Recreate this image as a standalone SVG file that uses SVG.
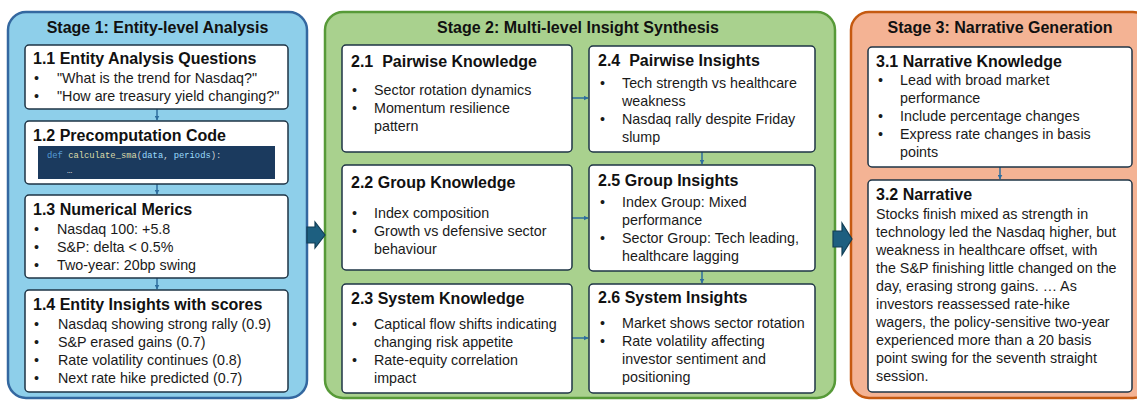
<svg xmlns="http://www.w3.org/2000/svg" width="1137" height="400" viewBox="0 0 1137 400">
  <style>
    .stage1 { fill: #8ECFEA; stroke: #3468A0; stroke-width: 2.5; }
    .stage2 { fill: #A9D18E; stroke: #579A38; stroke-width: 2.5; }
    .stage3 { fill: #F4B394; stroke: #C55A11; stroke-width: 2.5; }
    .box { fill: #FFFFFF; stroke: #1E3445; stroke-width: 1.5; }
    .stitle { font-family: "Liberation Sans", Arial, sans-serif; font-weight: bold; font-size: 16px; fill: #111111; text-anchor: middle; }
    .ntitle { font-family: "Liberation Sans", Arial, sans-serif; font-weight: bold; font-size: 16px; fill: #111111; }
    .body { font-family: "Liberation Sans", Arial, sans-serif; font-size: 14.3px; fill: #1A1A1A; }
    .code { font-family: "Liberation Mono", "Courier New", monospace; font-size: 8.8px; }
    .link { stroke: #2E6E9E; stroke-width: 1.5; fill: none; marker-end: url(#tip); }
    .big { fill: #1D5F80; stroke: #123E55; stroke-width: 1.2; }
  </style>
  <defs>
    <marker id="tip" viewBox="0 0 10 10" refX="9" refY="5" markerWidth="5" markerHeight="5" orient="auto" markerUnits="userSpaceOnUse">
      <path d="M0,0 L10,5 L0,10 z" fill="#2E6E9E"/>
    </marker>
  </defs>

  <!-- stage containers -->
  <g id="stage1">
    <rect class="stage1" x="8" y="12" width="299" height="386" rx="18"/>
    <text class="stitle" x="157.5" y="33">Stage 1: Entity-level Analysis</text>
  </g>
  <g id="stage2">
    <rect class="stage2" x="325" y="12" width="510" height="386" rx="18"/>
    <text class="stitle" x="578" y="33">Stage 2: Multi-level Insight Synthesis</text>
  </g>
  <g id="stage3">
    <rect class="stage3" x="851" y="12" width="300" height="386" rx="18"/>
    <text class="stitle" x="1000" y="33">Stage 3: Narrative Generation</text>
  </g>

  <!-- connectors -->
  <g id="connectors">
    <line class="link" x1="157" y1="109" x2="157" y2="120"/>
    <line class="link" x1="157" y1="184" x2="157" y2="194"/>
    <line class="link" x1="157" y1="278" x2="157" y2="289"/>
    <line class="link" x1="572" y1="98" x2="588" y2="98"/>
    <line class="link" x1="572" y1="218" x2="588" y2="218"/>
    <line class="link" x1="572" y1="338" x2="588" y2="338"/>
    <line class="link" x1="702" y1="152" x2="702" y2="164"/>
    <line class="link" x1="702" y1="271" x2="702" y2="283"/>
    <line class="link" x1="1000" y1="167" x2="1000" y2="179"/>
    <path class="big" d="M307,227 L315,227 L315,222 L325,235 L315,248 L315,243 L307,243 Z"/>
    <path class="big" d="M833,231 L842,231 L842,223 L852,239 L842,255 L842,247 L833,247 Z"/>
  </g>

  <!-- Stage 1 nodes -->
  <g id="n1-1">
    <rect class="box" x="25" y="45" width="263" height="64" rx="4"/>
    <text class="ntitle" x="33" y="64">1.1 Entity Analysis Questions</text>
    <text class="body" x="34" y="83">•</text><text class="body" x="57" y="83">"What is the trend for Nasdaq?"</text>
    <text class="body" x="34" y="101">•</text><text class="body" x="57" y="101">"How are treasury yield changing?"</text>
  </g>
  <g id="n1-2">
    <rect class="box" x="25" y="121" width="263" height="63" rx="4"/>
    <text class="ntitle" x="33" y="141">1.2 Precomputation Code</text>
    <rect x="38" y="146" width="237" height="33" fill="#1B3A5E"/>
    <text class="code" x="47" y="158"><tspan fill="#569CD6">def </tspan><tspan fill="#DCDCAA">calculate_sma</tspan><tspan fill="#D4D4D4">(</tspan><tspan fill="#9CDCFE">data</tspan><tspan fill="#D4D4D4">, </tspan><tspan fill="#9CDCFE">periods</tspan><tspan fill="#D4D4D4">):</tspan></text>
    <text class="code" x="67" y="173" fill="#D4D4D4">…</text>
  </g>
  <g id="n1-3">
    <rect class="box" x="25" y="195" width="263" height="83" rx="4"/>
    <text class="ntitle" x="33" y="215">1.3 Numerical Merics</text>
    <text class="body" x="34" y="234">•</text><text class="body" x="57" y="234">Nasdaq 100: +5.8</text>
    <text class="body" x="34" y="252">•</text><text class="body" x="57" y="252">S&amp;P: delta &lt; 0.5%</text>
    <text class="body" x="34" y="270">•</text><text class="body" x="57" y="270">Two-year: 20bp swing</text>
  </g>
  <g id="n1-4">
    <rect class="box" x="25" y="290" width="263" height="102" rx="4"/>
    <text class="ntitle" x="33" y="310">1.4 Entity Insights with scores</text>
    <text class="body" x="34" y="329">•</text><text class="body" x="58" y="329">Nasdaq showing strong rally (0.9)</text>
    <text class="body" x="34" y="347">•</text><text class="body" x="58" y="347">S&amp;P erased gains (0.7)</text>
    <text class="body" x="34" y="365">•</text><text class="body" x="58" y="365">Rate volatility continues (0.8)</text>
    <text class="body" x="34" y="383">•</text><text class="body" x="58" y="383">Next rate hike predicted (0.7)</text>
  </g>

  <!-- Stage 2 nodes -->
  <g id="n2-1">
    <rect class="box" x="342" y="45" width="230" height="107" rx="4"/>
    <text class="ntitle" x="351" y="67" xml:space="preserve">2.1  Pairwise Knowledge</text>
    <text class="body" x="352" y="95">•</text><text class="body" x="374" y="95">Sector rotation dynamics</text>
    <text class="body" x="352" y="113">•</text><text class="body" x="374" y="113">Momentum resilience</text>
    <text class="body" x="374" y="131">pattern</text>
  </g>
  <g id="n2-2">
    <rect class="box" x="342" y="165" width="230" height="105" rx="4"/>
    <text class="ntitle" x="351" y="188">2.2 Group Knowledge</text>
    <text class="body" x="352" y="218">•</text><text class="body" x="374" y="218">Index composition</text>
    <text class="body" x="352" y="236">•</text><text class="body" x="374" y="236">Growth vs defensive sector</text>
    <text class="body" x="374" y="254">behaviour</text>
  </g>
  <g id="n2-3">
    <rect class="box" x="342" y="284" width="230" height="109" rx="4"/>
    <text class="ntitle" x="351" y="304">2.3 System Knowledge</text>
    <text class="body" x="352" y="329">•</text><text class="body" x="374" y="329">Captical flow shifts indicating</text>
    <text class="body" x="374" y="347">changing risk appetite</text>
    <text class="body" x="352" y="365">•</text><text class="body" x="374" y="365">Rate-equity correlation</text>
    <text class="body" x="374" y="383">impact</text>
  </g>
  <g id="n2-4">
    <rect class="box" x="589" y="46" width="226" height="106" rx="4"/>
    <text class="ntitle" x="598" y="66" xml:space="preserve">2.4  Pairwise Insights</text>
    <text class="body" x="600" y="88">•</text><text class="body" x="622" y="88">Tech strength vs healthcare</text>
    <text class="body" x="622" y="106">weakness</text>
    <text class="body" x="600" y="124">•</text><text class="body" x="622" y="124">Nasdaq rally despite Friday</text>
    <text class="body" x="622" y="142">slump</text>
  </g>
  <g id="n2-5">
    <rect class="box" x="589" y="165" width="226" height="106" rx="4"/>
    <text class="ntitle" x="598" y="186">2.5 Group Insights</text>
    <text class="body" x="600" y="207">•</text><text class="body" x="622" y="207">Index Group: Mixed</text>
    <text class="body" x="622" y="225">performance</text>
    <text class="body" x="600" y="243">•</text><text class="body" x="622" y="243">Sector Group: Tech leading,</text>
    <text class="body" x="622" y="261">healthcare lagging</text>
  </g>
  <g id="n2-6">
    <rect class="box" x="589" y="284" width="226" height="109" rx="4"/>
    <text class="ntitle" x="598" y="303">2.6 System Insights</text>
    <text class="body" x="600" y="328">•</text><text class="body" x="622" y="328">Market shows sector rotation</text>
    <text class="body" x="600" y="346">•</text><text class="body" x="622" y="346">Rate volatility affecting</text>
    <text class="body" x="622" y="364">investor sentiment and</text>
    <text class="body" x="622" y="382">positioning</text>
  </g>

  <!-- Stage 3 nodes -->
  <g id="n3-1">
    <rect class="box" x="868" y="47" width="264" height="120" rx="4"/>
    <text class="ntitle" x="876" y="67">3.1 Narrative Knowledge</text>
    <text class="body" x="878" y="85">•</text><text class="body" x="900" y="85">Lead with broad market</text>
    <text class="body" x="900" y="103">performance</text>
    <text class="body" x="878" y="121">•</text><text class="body" x="900" y="121">Include percentage changes</text>
    <text class="body" x="878" y="139">•</text><text class="body" x="900" y="139">Express rate changes in basis</text>
    <text class="body" x="900" y="157">points</text>
  </g>
  <g id="n3-2">
    <rect class="box" x="868" y="180" width="264" height="212" rx="4"/>
    <text class="ntitle" x="876" y="200">3.2 Narrative</text>
    <text class="body" x="876" y="219">Stocks finish mixed as strength in</text>
    <text class="body" x="876" y="237">technology led the Nasdaq higher, but</text>
    <text class="body" x="876" y="255">weakness in healthcare offset, with</text>
    <text class="body" x="876" y="273">the S&amp;P finishing little changed on the</text>
    <text class="body" x="876" y="291">day, erasing strong gains. … As</text>
    <text class="body" x="876" y="309">investors reassessed rate-hike</text>
    <text class="body" x="876" y="327">wagers, the policy-sensitive two-year</text>
    <text class="body" x="876" y="345">experienced more than a 20 basis</text>
    <text class="body" x="876" y="363">point swing for the seventh straight</text>
    <text class="body" x="876" y="381">session.</text>
  </g>
</svg>
